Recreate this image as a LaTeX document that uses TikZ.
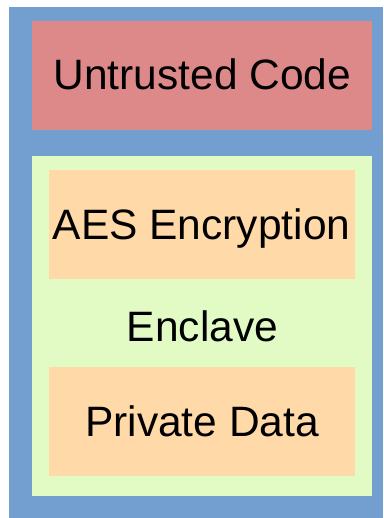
\documentclass[tikz,border=0pt]{standalone}
\usepackage{fontspec}
\setmainfont{Liberation Sans}
\definecolor{hostblue}{RGB}{114,159,207}
\definecolor{untrustedred}{RGB}{221,137,137}
\definecolor{enclavegreen}{RGB}{226,250,196}
\definecolor{moduleorange}{RGB}{255,217,168}
\tikzset{
  panel/.style={fill=#1, draw=none},
  label/.style={anchor=base, inner sep=0pt, font=\fontsize{42.5}{50}\selectfont, text=black}
}
\begin{document}
\begin{tikzpicture}[x=1pt, y=-1pt]
  \useasboundingbox (0,0) rectangle (383,518);
  % host process
  \fill[panel=hostblue] (9,7) rectangle (383,518);
  % untrusted part
  \fill[panel=untrustedred] (32,21) rectangle (372,130);
  % enclave and its contents
  \fill[panel=enclavegreen] (32,156) rectangle (372,496);
  \fill[panel=moduleorange] (49,170) rectangle (355,279);
  \fill[panel=moduleorange] (49,367) rectangle (355,476);
  % labels
  \node[label] (untrusted) at (202.5,90) {Untrusted Code};
  \node[label] (aes) at (201.5,239.3) {AES Encryption};
  \node[label] (enclave) at (202.5,341.7) {Enclave};
  \node[label] (private) at (202,436.3) {Private Data};
\end{tikzpicture}
\end{document}
